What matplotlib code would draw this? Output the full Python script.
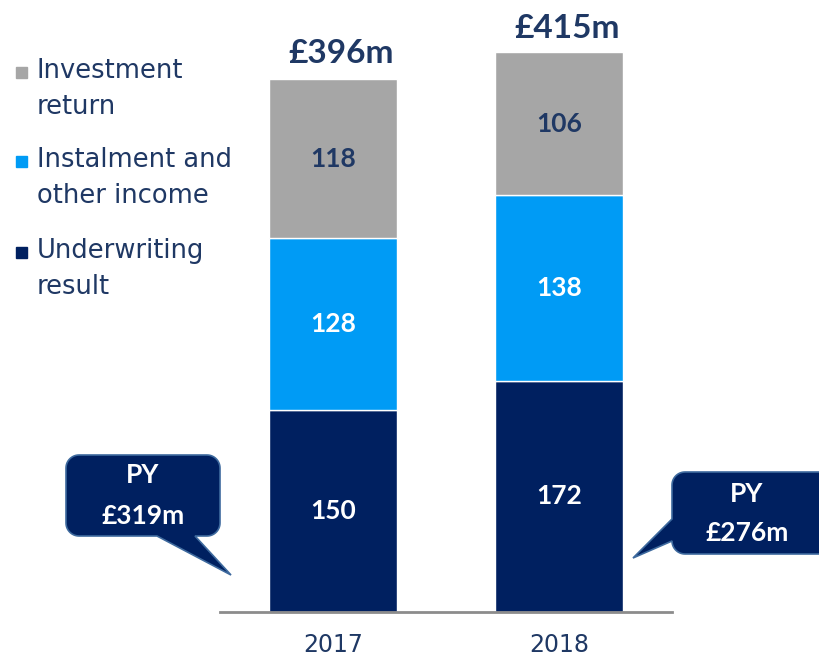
import numpy as np
import matplotlib
matplotlib.use("Agg")
import matplotlib.pyplot as plt
from matplotlib.patches import Polygon, Rectangle

# ---- data ----
years = ["2017", "2018"]
underwriting = [150, 172]
instalment = [128, 138]
investment = [118, 106]
totals = [396, 415]
prior_year = [319, 276]
series_names = ["Investment\nreturn", "Instalment and\nother income", "Underwriting\nresult"]

NAVY = "#002060"
BLUE = "#009BF5"
GREY = "#A6A6A6"
TXT = "#1F3864"

W, H = 820, 659
fig = plt.figure(figsize=(W / 100, H / 100), dpi=100)

# main axes: baseline at y=612 px from top, 1.341 px per unit
base_px = 612
ppu = 1.345
ymax = 450
ax = fig.add_axes([220 / W, (H - base_px) / H, 452 / W, ymax * ppu / H])
x = np.arange(len(years))
bw = 0.565
ax.bar(x, underwriting, bw, color=NAVY, edgecolor="white", linewidth=1)
ax.bar(x, instalment, bw, bottom=underwriting, color=BLUE, edgecolor="white", linewidth=1)
bot3 = np.array(underwriting) + np.array(instalment)
ax.bar(x, investment, bw, bottom=bot3, color=GREY, edgecolor="white", linewidth=1)

ax.set_xlim(-0.5, 1.5)
ax.set_ylim(0, ymax)
for s in ["top", "right", "left"]:
    ax.spines[s].set_visible(False)
ax.spines["bottom"].set_color("#8C8C8C")
ax.spines["bottom"].set_linewidth(2)
ax.set_yticks([])
ax.set_xticks(x)
ax.set_xticklabels(years, fontsize=17, color=TXT, family="DejaVu Sans")
ax.tick_params(axis="x", length=0, pad=15)

for i in range(len(years)):
    ax.text(x[i], underwriting[i] / 2, str(underwriting[i]), ha="center", va="center",
            color="white", fontsize=19, fontweight="bold", family="Lato")
    ax.text(x[i], underwriting[i] + instalment[i] / 2, str(instalment[i]), ha="center", va="center",
            color="white", fontsize=19, fontweight="bold", family="Lato")
    ax.text(x[i], bot3[i] + investment[i] / 2, str(investment[i]), ha="center", va="center",
            color=TXT, fontsize=19, fontweight="bold", family="Lato")
    ax.annotate(f"£{totals[i]}m", (x[i] + 0.035, totals[i]), xytext=(0, 8),
                textcoords="offset points", ha="center", va="bottom",
                color=TXT, fontsize=24, fontweight="bold", family="Lato")

# ---- overlay for legend and callouts (pixel coordinates) ----
ov = fig.add_axes([0, 0, 1, 1], facecolor="none")
ov.set_xlim(0, W)
ov.set_ylim(H, 0)
ov.axis("off")

leg_colors = [GREY, BLUE, NAVY]
leg_y = [73, 162, 253]
for c, name, yy in zip(leg_colors, series_names, leg_y):
    ov.add_patch(Rectangle((16, yy - 6), 11, 11, color=c))
    ov.text(37, yy + 16, name, ha="left", va="center", fontsize=18.5, color=TXT,
            family="DejaVu Sans", linespacing=1.5)


def callout(x0, y0, x1, y1, r, tail):
    pts = []
    def arc(cx, cy, a0, a1):
        t = np.radians(np.linspace(a0, a1, 12))
        return list(zip(cx + r * np.cos(t), cy + r * np.sin(t)))
    pts += arc(x0 + r, y0 + r, 180, 270)
    pts += arc(x1 - r, y0 + r, 270, 360)
    pts += arc(x1 - r, y1 - r, 0, 90)
    if tail[0] == "bottom":
        _, a, b, tip = tail
        pts += [(b, y1), tip, (a, y1)]
    pts += arc(x0 + r, y1 - r, 90, 180)
    if tail[0] == "left":
        _, a, b, tip = tail
        pts += [(x0, b), tip, (x0, a)]
    ov.add_patch(Polygon(pts, closed=True, facecolor=NAVY, edgecolor="#3E6A9E", linewidth=1.2))


callout(66, 455, 220, 536, 13, ("bottom", 157, 195, (231, 575)))
callout(672, 472, 835, 554, 13, ("left", 519, 541, (633, 558)))

centers = [(143, 475, 516), (747, 494, 533)]
for (cx, y1, y2), v in zip(centers, prior_year):
    ov.text(cx, y1, "PY", ha="center", va="center", color="white",
            fontsize=19, fontweight="bold", family="Lato")
    ov.text(cx, y2, f"£{v}m", ha="center", va="center", color="white",
            fontsize=19, fontweight="bold", family="Lato")

fig.savefig("out.png", dpi=100)
